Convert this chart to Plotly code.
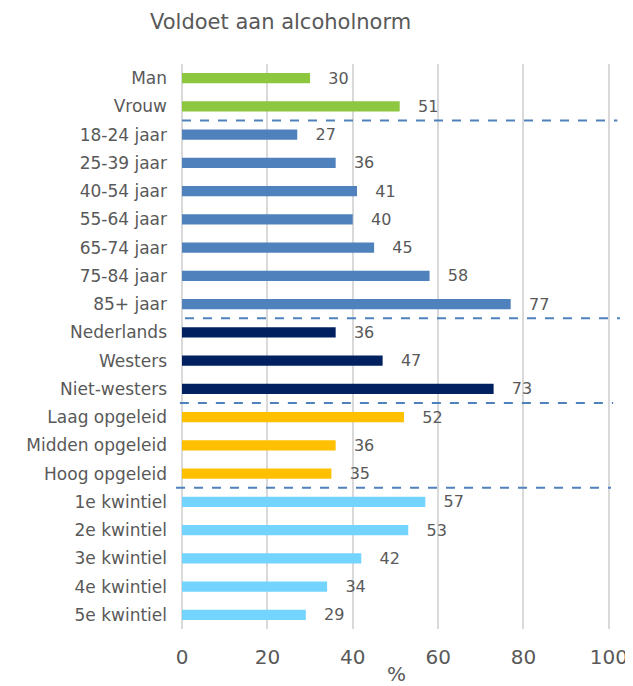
import plotly.graph_objects as go

categories = ["Man", "Vrouw", "18-24 jaar", "25-39 jaar", "40-54 jaar", "55-64 jaar",
              "65-74 jaar", "75-84 jaar", "85+ jaar", "Nederlands", "Westers", "Niet-westers",
              "Laag opgeleid", "Midden opgeleid", "Hoog opgeleid", "1e kwintiel",
              "2e kwintiel", "3e kwintiel", "4e kwintiel", "5e kwintiel"]
values = [30, 51, 27, 36, 41, 40, 45, 58, 77, 36, 47, 73, 52, 36, 35, 57, 53, 42, 34, 29]
groups = ["sex"] * 2 + ["age"] * 7 + ["origin"] * 3 + ["edu"] * 3 + ["income"] * 5
group_colors = {"sex": "#8DC63F", "age": "#4F81BD", "origin": "#002060",
                "edu": "#FFC000", "income": "#73D5FF"}
x_ticks = [0, 20, 40, 60, 80, 100]
X_MAX = 100.5
# separator lines: (boundary after category index, x start, x end) in axis units
separators = [(1.5, 0, 102), (8.5, 0.7, 102.6), (11.5, -0.5, 101), (14.5, -1.4, 100.5)]

FONT = "DejaVu Sans"
GREY = "#595959"
W, H, PAGE_MARGIN = 633, 686, 8

fig = go.Figure()
fig.add_trace(go.Bar(
    y=categories, x=values, orientation="h",
    marker=dict(color=[group_colors[g] for g in groups], line=dict(width=0)),
    width=0.36,
    text=[f"   {v}" for v in values], textposition="outside",
    constraintext="none",
    textfont=dict(family=FONT, size=16, color=GREY),
    cliponaxis=False, hoverinfo="skip",
))

n = len(categories)
for yb, x0, x1 in separators:
    # convert to paper fractions so the lines may run past the plot edge
    yp = 1 - (yb + 0.5) / n
    fig.add_shape(type="line", xref="paper", yref="paper",
                  x0=x0 / X_MAX, x1=x1 / X_MAX, y0=yp, y1=yp,
                  line=dict(color="#4F81BD", width=2, dash="dash"))

fig.update_layout(
    width=W - PAGE_MARGIN, height=H - PAGE_MARGIN,
    margin=dict(l=182 - PAGE_MARGIN, r=22, t=64 - PAGE_MARGIN, b=57),
    paper_bgcolor="white", plot_bgcolor="white",
    showlegend=False,
    font=dict(family=FONT, color=GREY),
    title=dict(text="Voldoet aan alcoholnorm",
               x=(150 - PAGE_MARGIN) / (W - PAGE_MARGIN), xanchor="left",
               y=1 - (22 - PAGE_MARGIN) / (H - PAGE_MARGIN), yanchor="middle",
               xref="container", yref="container",
               font=dict(family=FONT, size=21, color=GREY)),
)
fig.update_xaxes(range=[0, X_MAX], tickvals=x_ticks, showgrid=True, gridcolor="#D9D9D9",
                 gridwidth=2, zeroline=True, zerolinecolor="#D9D9D9", zerolinewidth=2,
                 showline=False, automargin=False, ticklabelstandoff=14,
                 tickfont=dict(family=FONT, size=20, color=GREY),
                 title=dict(text="%", font=dict(family=FONT, size=20, color=GREY), standoff=2))
fig.update_yaxes(type="category", categoryorder="array", categoryarray=categories,
                 autorange="reversed", showgrid=False, zeroline=False, showline=False,
                 automargin=False,
                 tickfont=dict(family=FONT, size=17, color=GREY), ticklabelstandoff=14)

fig.write_html("out.html")
